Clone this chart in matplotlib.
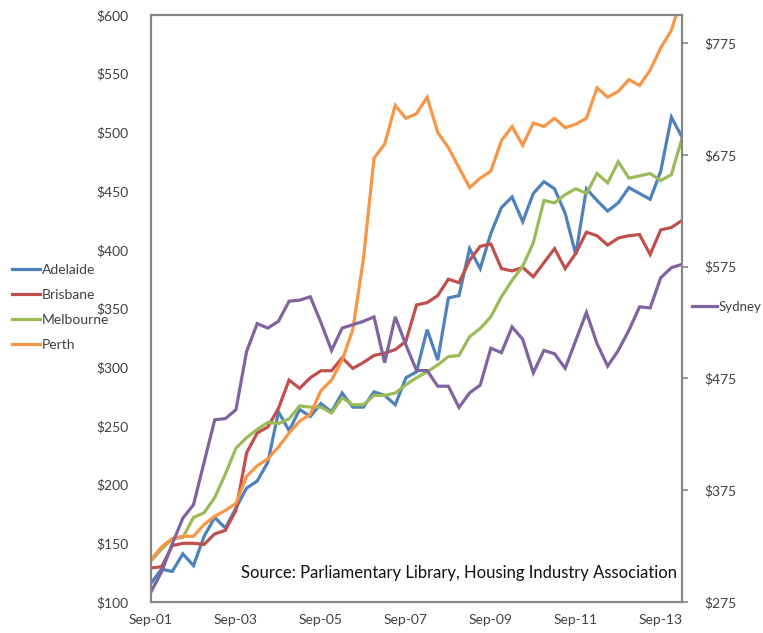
import numpy as np
import matplotlib
matplotlib.use("Agg")
import matplotlib.pyplot as plt
from matplotlib.lines import Line2D

# quarterly data, Sep-01 .. Mar-14
quarters = ["Sep-01", "Dec-01", "Mar-02", "Jun-02", "Sep-02", "Dec-02", "Mar-03", "Jun-03",
            "Sep-03", "Dec-03", "Mar-04", "Jun-04", "Sep-04", "Dec-04", "Mar-05", "Jun-05",
            "Sep-05", "Dec-05", "Mar-06", "Jun-06", "Sep-06", "Dec-06", "Mar-07", "Jun-07",
            "Sep-07", "Dec-07", "Mar-08", "Jun-08", "Sep-08", "Dec-08", "Mar-09", "Jun-09",
            "Sep-09", "Dec-09", "Mar-10", "Jun-10", "Sep-10", "Dec-10", "Mar-11", "Jun-11",
            "Sep-11", "Dec-11", "Mar-12", "Jun-12", "Sep-12", "Dec-12", "Mar-13", "Jun-13",
            "Sep-13", "Dec-13", "Mar-14"]

adelaide = [116, 128, 126, 141, 131, 156, 172, 163, 180, 197, 203, 219, 262, 246, 264, 258,
            269, 262, 278, 266, 266, 279, 276, 268, 291, 296, 332, 306, 359, 361, 401, 384,
            414, 436, 445, 424, 448, 458, 452, 431, 396, 452, 442, 433, 440, 453, 448, 443,
            467, 513, 496]
brisbane = [129, 130, 148, 150, 150, 149, 158, 161, 178, 227, 244, 249, 265, 289, 282, 291,
            297, 297, 308, 299, 304, 310, 312, 315, 322, 353, 355, 361, 375, 372, 391, 403,
            405, 384, 382, 385, 377, 389, 401, 384, 397, 415, 412, 404, 410, 412, 413, 396,
            417, 419, 425]
melbourne = [135, 145, 154, 155, 172, 176, 189, 209, 231, 240, 247, 253, 252, 256, 267, 266,
             266, 261, 274, 268, 268, 276, 276, 278, 285, 291, 296, 302, 309, 310, 326, 333,
             343, 360, 374, 386, 406, 442, 440, 447, 452, 448, 465, 457, 475, 461, 463, 465,
             459, 464, 495]
perth = [136, 147, 154, 156, 156, 166, 173, 178, 184, 207, 216, 222, 232, 244, 254, 260,
         280, 289, 306, 332, 392, 478, 490, 523, 512, 516, 530, 500, 487, 470, 453, 461,
         467, 493, 505, 489, 508, 505, 512, 504, 507, 512, 538, 530, 535, 545, 540, 553,
         572, 587, 616]
# Sydney on the secondary axis
sydney = [284, 302, 327, 350, 362, 400, 438, 439, 447, 499, 524, 520, 526, 544, 545, 548,
          525, 500, 520, 523, 526, 530, 489, 530, 505, 482, 482, 468, 468, 449, 462, 469,
          502, 498, 521, 510, 480, 500, 497, 484, 509, 534, 506, 486, 500, 518, 539, 538,
          565, 574, 577]

left_ticks = list(range(100, 601, 50))
right_ticks = list(range(275, 776, 100))

colors = {"Adelaide": "#4F81BD", "Brisbane": "#C0504D", "Melbourne": "#9BBB59",
          "Perth": "#F79646", "Sydney": "#8064A2"}

plt.rcParams["font.family"] = ["Lato", "DejaVu Sans"]
txt_col = "#404040"
spine_col = "#868686"
lw = 2.3

fig = plt.figure(figsize=(7.63, 6.33), dpi=100)
ax = fig.add_axes([151 / 763, 1 - 602 / 633, (682 - 151) / 763, (602 - 15) / 633])
x = np.arange(len(quarters))

for name, vals in [("Adelaide", adelaide), ("Brisbane", brisbane),
                   ("Melbourne", melbourne), ("Perth", perth)]:
    ax.plot(x, vals, color=colors[name], lw=lw, solid_joinstyle="miter")

ax.set_xlim(0, len(quarters) - 1)
ax.set_ylim(100, 600)
ax.set_yticks(left_ticks)
ax.set_yticklabels([f"${v}" for v in left_ticks])
ax.set_xticks(x[::8])
ax.set_xticklabels([quarters[i] for i in x[::8]])
ax.tick_params(axis="both", length=0, colors=txt_col, labelsize=10)
ax.tick_params(axis="y", pad=16)
ax.tick_params(axis="x", pad=9)

ax2 = ax.twinx()
ax2.plot(x, sydney, color=colors["Sydney"], lw=lw, solid_joinstyle="miter")
ax2.set_ylim(275, 800)
ax2.set_yticks(right_ticks)
ax2.set_yticklabels([f"${v}" for v in right_ticks])
ax2.tick_params(axis="y", length=4, width=1.2, color=spine_col, colors=txt_col,
                labelsize=10, pad=12)

for a in (ax, ax2):
    for s in a.spines.values():
        s.set_color(spine_col)
        s.set_linewidth(1.5)
ax.spines["top"].set_color("#555555")

ax.text(0.99, 0.035, "Source: Parliamentary Library, Housing Industry Association",
        transform=ax.transAxes, ha="right", va="bottom", fontsize=12, color="#111111")

# legends outside the plot area
left_handles = [Line2D([], [], color=colors[n], lw=lw) for n in
                ["Adelaide", "Brisbane", "Melbourne", "Perth"]]
leg = fig.legend(left_handles, ["Adelaide", "Brisbane", "Melbourne", "Perth"],
                 loc="center left", bbox_to_anchor=(12 / 763, 1 - 307.5 / 633),
                 frameon=False, fontsize=10, handlelength=2.0, handletextpad=0.15,
                 labelspacing=0.95, borderpad=0, borderaxespad=0)
for t in leg.get_texts():
    t.set_color(txt_col)

leg2 = fig.legend([Line2D([], [], color=colors["Sydney"], lw=lw)], ["Sydney"],
                  loc="center left", bbox_to_anchor=(692 / 763, 1 - 307 / 633),
                  frameon=False, fontsize=9.5, handlelength=1.9, handletextpad=0.12,
                  borderpad=0, borderaxespad=0)
for t in leg2.get_texts():
    t.set_color(txt_col)

fig.savefig("out.png", dpi=100)
